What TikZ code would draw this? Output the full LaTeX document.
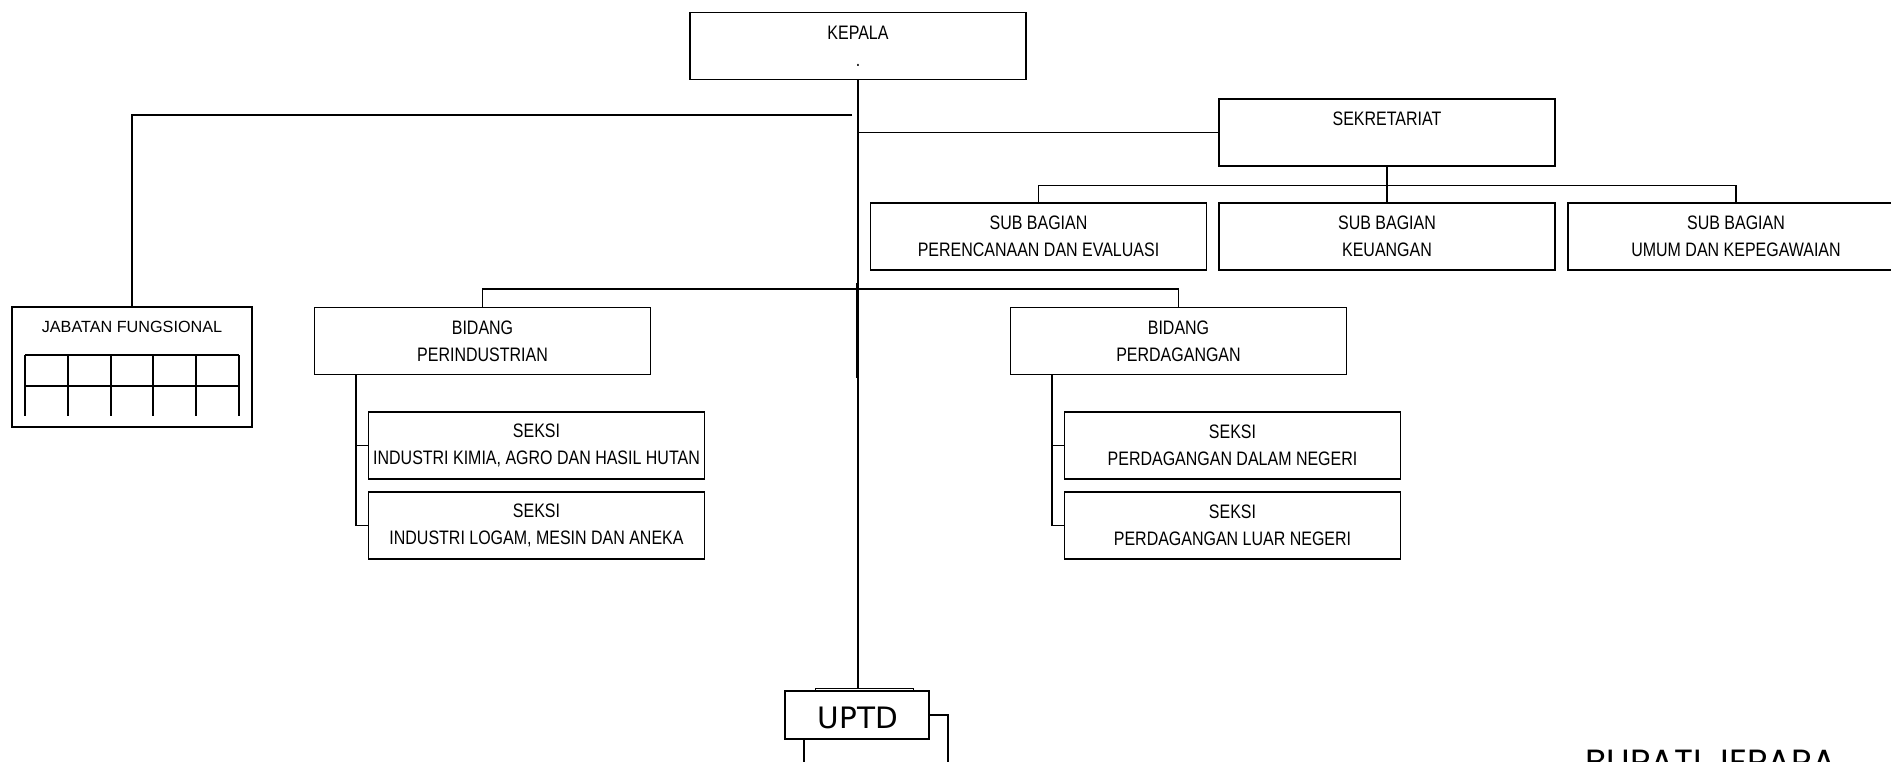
\documentclass[tikz,border=0pt]{standalone}
\usepackage{fontspec}
\setmainfont{Liberation Sans}
\newfontfamily\boxfont[FakeStretch=0.82]{Liberation Sans}
\newfontfamily\uptdfont{DejaVu Sans}
\newfontfamily\titlefont{Poppins}
\begin{document}
\begin{tikzpicture}[x=1pt,y=-1pt,
  unit/.style={draw, line width=1.3pt, minimum width=336pt, minimum height=67pt,
    inner sep=0pt, align=center, font=\boxfont\fontsize{19.5}{27}\selectfont},
  link/.style={line width=1.3pt},
  heavy/.style={line width=2.6pt},
  grid/.style={line width=2pt}]
\useasboundingbox (0,0) rectangle (1891,761);
\clip (0,0) rectangle (1891,761);
\fill[white] (0,0) rectangle (1891,761);

% head of office and secretariat
\node[unit] (kepala) at (858,46) {KEPALA\\.};
\node[unit] (sek) at (1387,132.5) {SEKRETARIAT\\\mbox{}};
\node[unit] (sub1) at (1038.5,236.5) {SUB BAGIAN\\PERENCANAAN DAN EVALUASI};
\node[unit] (sub2) at (1387,236.5) {SUB BAGIAN\\KEUANGAN};
\node[unit] (sub3) at (1736,236.5) {SUB BAGIAN\\UMUM DAN KEPEGAWAIAN};

% divisions
\node[unit] (bid1) at (482.5,341) {BIDANG\\PERINDUSTRIAN};
\node[unit] (bid2) at (1178.5,341) {BIDANG\\PERDAGANGAN};
\node[unit] (sk1) at (536.5,445.5) {SEKSI\\INDUSTRI KIMIA, AGRO DAN HASIL HUTAN};
\node[unit] (sk2) at (536.5,525.5) {SEKSI\\INDUSTRI LOGAM, MESIN DAN ANEKA};
\node[unit] (sk3) at (1232.5,445.5) {SEKSI\\PERDAGANGAN DALAM NEGERI};
\node[unit] (sk4) at (1232.5,525.5) {SEKSI\\PERDAGANGAN LUAR NEGERI};

% functional group with its grid
\node[draw, heavy, minimum width=240pt, minimum height=120pt, inner sep=0pt] (jab) at (132,367) {};
\node[font=\fontsize{16.2}{19}\selectfont, inner sep=0pt] (jabt) at (132,326.5) {JABATAN FUNGSIONAL};
\draw[grid] (25,355) -- (239,355) (25,386) -- (239,386);
\foreach \gx in {25,67.8,110.6,153.4,196.2,239}
  \draw[grid] (\gx,355) -- (\gx,416);

% technical unit
\node[draw, line width=0.9pt, minimum width=98pt, minimum height=40pt, fill=white] (uptdback) at (864,708) {};
\node[draw, line width=2pt, fill=white, minimum width=144pt, minimum height=48pt, inner sep=0pt] (uptd) at (857,715) {};
\node[font=\uptdfont\fontsize{29.5}{32}\selectfont, inner sep=0pt, anchor=base] (uptdt) at (858,728.5) {UPTD};
\coordinate (uleft) at (804,775);
\coordinate (uright) at (948,775);
\draw[line width=1.8pt] (uptd.south west -| uleft) -- (uleft);
\draw[line width=1.8pt] (uptd.east) -| (uright);

% caption at the lower right
\node[font=\titlefont\fontsize{35}{38}\selectfont, anchor=base west, inner sep=0pt] (bupati) at (1585,774) {BUPATI JEPARA};

% main trunk
\draw[link] (kepala.south) -- (kepala.south |- uptdback.north);
\coordinate (tk1) at (857,283);
\coordinate (tk2) at (857,378);
\draw[line width=2.4pt] (tk1) -- (tk2);

% functional branch
\coordinate (jl) at (852,115);
\draw[heavy] (jl) -| (jab.north);

% secretariat branch
\draw[link] (kepala.south |- sek.west) -- (sek.west);
\draw[link] (sek.south) -- (sek.south |- 0,186);
\draw[link] (sub1.north) -- ++(0,-17) -| (sub3.north);
\draw[link] (sub2.north) -- ++(0,-17);

% division branch
\draw[link] (bid1.north) -- ++(0,-18) -| (bid2.north);

% section branches
\draw[link] ([xshift=42pt]bid1.south west) |- (sk1.west);
\draw[link] ([xshift=42pt]bid1.south west) |- (sk2.west);
\draw[link] ([xshift=42pt]bid2.south west) |- (sk3.west);
\draw[link] ([xshift=42pt]bid2.south west) |- (sk4.west);
\end{tikzpicture}
\end{document}
